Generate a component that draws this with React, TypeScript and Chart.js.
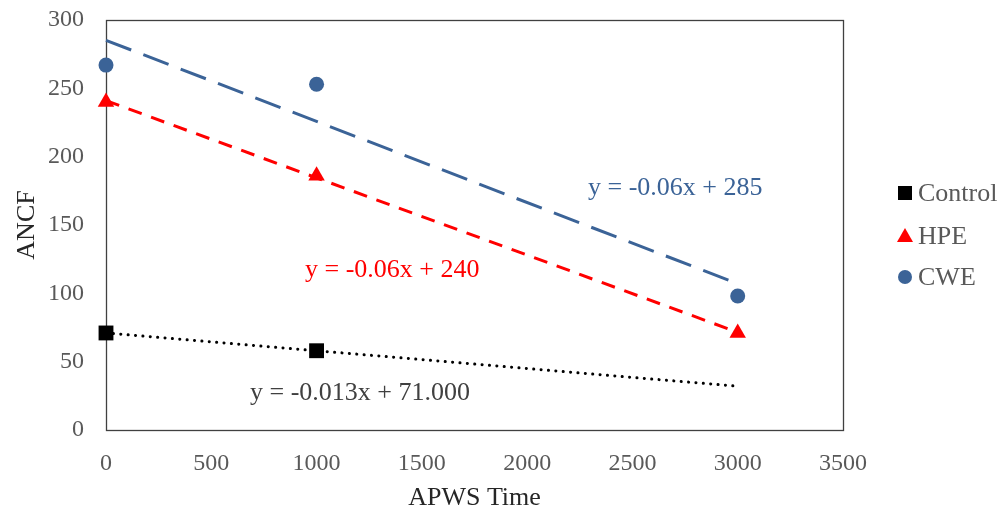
import React, { useEffect, useRef } from "react";
import { Chart, registerables } from "chart.js";

Chart.register(...registerables);

// ---- Data ----
const controlTimes = [0, 1000];
const controlValues = [71, 58];
const hpeTimes = [0, 1000, 3000];
const hpeValues = [240, 186, 71];
const cweTimes = [0, 1000, 3000];
const cweValues = [267, 253, 98];
const seriesNames = ["Control", "HPE", "CWE"];
const equationLabels = ["y = -0.013x + 71.000", "y = -0.06x + 240", "y = -0.06x + 285"];
const trendRange = [0, 3000];
const xTickValues = [0, 500, 1000, 1500, 2000, 2500, 3000, 3500];
const yTickValues = [0, 50, 100, 150, 200, 250, 300];
const xTitle = "APWS Time";
const yTitle = "ANCF";

// ---- Styles ----
const FONT = "'Liberation Serif', 'Times New Roman', serif";
const BLACK = "#000000";
const RED = "#FF0000";
const BLUE = "#3B6397";
const TICK = "#595959";

function regression(xs: number[], ys: number[]) {
  const n = xs.length;
  const mx = xs.reduce((a, b) => a + b, 0) / n;
  const my = ys.reduce((a, b) => a + b, 0) / n;
  let sxy = 0;
  let sxx = 0;
  for (let i = 0; i < n; i++) {
    sxy += (xs[i] - mx) * (ys[i] - my);
    sxx += (xs[i] - mx) * (xs[i] - mx);
  }
  const slope = sxy / sxx;
  const intercept = my - slope * mx;
  return trendRange.map((x) => ({ x, y: intercept + slope * x }));
}

const pts = (xs: number[], ys: number[]) => xs.map((x, i) => ({ x, y: ys[i] }));

// label placement (data coordinates: left edge, vertical centre)
const labelAnchors = [
  { x: 684, y: 27, color: "#404040" },
  { x: 945, y: 117, color: RED },
  { x: 2289, y: 177, color: BLUE },
];

const legendItems = [
  { style: "rect", color: BLACK },
  { style: "triangle", color: RED },
  { style: "circle", color: BLUE },
];

function drawMarker(ctx: CanvasRenderingContext2D, style: string, x: number, y: number, color: string) {
  ctx.save();
  ctx.fillStyle = color;
  ctx.beginPath();
  if (style === "rect") {
    ctx.rect(x - 7, y - 7, 14, 14);
  } else if (style === "triangle") {
    ctx.moveTo(x, y - 8);
    ctx.lineTo(x + 8, y + 6);
    ctx.lineTo(x - 8, y + 6);
    ctx.closePath();
  } else {
    ctx.arc(x, y, 7, 0, Math.PI * 2);
  }
  ctx.fill();
  ctx.restore();
}

const overlayPlugin = {
  id: "overlay",
  beforeDatasetsDraw(chart: any) {
    const { ctx, chartArea } = chart;
    ctx.save();
    ctx.strokeStyle = "#404040";
    ctx.lineWidth = 1.3;
    ctx.strokeRect(
      Math.round(chartArea.left) + 0.5,
      Math.round(chartArea.top) + 0.5,
      Math.round(chartArea.right - chartArea.left),
      Math.round(chartArea.bottom - chartArea.top)
    );
    ctx.restore();
  },
  afterDraw(chart: any) {
    const { ctx } = chart;
    const xs = chart.scales.x;
    const ys = chart.scales.y;
    ctx.save();
    ctx.font = `26px ${FONT}`;
    ctx.textBaseline = "middle";
    ctx.textAlign = "left";
    equationLabels.forEach((t, i) => {
      const a = labelAnchors[i];
      ctx.fillStyle = a.color;
      ctx.fillText(t, xs.getPixelForValue(a.x), ys.getPixelForValue(a.y));
    });
    // legend
    const lx = 905;
    const ly = [193, 236, 277];
    seriesNames.forEach((name, i) => {
      const it = legendItems[i];
      drawMarker(ctx, it.style, lx, ly[i], it.color);
      ctx.fillStyle = TICK;
      ctx.font = `26px ${FONT}`;
      ctx.fillText(name, lx + 13, ly[i] + 1);
    });
    ctx.restore();
  },
};

export default function App() {
  const canvasRef = useRef<HTMLCanvasElement | null>(null);

  useEffect(() => {
    if (!canvasRef.current) return;
    const chart = new Chart(canvasRef.current, {
      type: "scatter",
      data: {
        datasets: [
          {
            label: "Control",
            data: pts(controlTimes, controlValues),
            pointStyle: "rect",
            pointRadius: 10.5,
            backgroundColor: BLACK,
            borderColor: BLACK,
            borderWidth: 0,
            showLine: false,
            clip: false,
            order: 1,
          },
          {
            label: "HPE",
            data: pts(hpeTimes, hpeValues),
            pointStyle: "triangle",
            pointRadius: 9.5,
            backgroundColor: RED,
            borderColor: RED,
            borderWidth: 0,
            showLine: false,
            clip: false,
            order: 1,
          },
          {
            label: "CWE",
            data: pts(cweTimes, cweValues),
            pointStyle: "circle",
            pointRadius: 7.5,
            backgroundColor: BLUE,
            borderColor: BLUE,
            borderWidth: 0,
            showLine: false,
            clip: false,
            order: 1,
          },
          {
            label: "Control trend",
            data: regression(controlTimes, controlValues),
            showLine: true,
            pointRadius: 0,
            borderColor: BLACK,
            borderWidth: 3,
            borderDash: [0.1, 7.3],
            borderCapStyle: "round",
            clip: false,
            order: 2,
          },
          {
            label: "HPE trend",
            data: regression(hpeTimes, hpeValues),
            showLine: true,
            pointRadius: 0,
            borderColor: RED,
            borderWidth: 3,
            borderDash: [14, 10],
            clip: false,
            order: 2,
          },
          {
            label: "CWE trend",
            data: regression(cweTimes, cweValues),
            showLine: true,
            pointRadius: 0,
            borderColor: BLUE,
            borderWidth: 3,
            borderDash: [27, 13],
            clip: false,
            order: 2,
          },
        ],
      },
      options: {
        animation: false,
        responsive: true,
        maintainAspectRatio: false,
        layout: { padding: { left: 0, top: 20, right: 161, bottom: 0 } },
        plugins: {
          legend: { display: false },
          tooltip: { enabled: false },
        },
        scales: {
          x: {
            type: "linear",
            min: 0,
            max: 3500,
            afterBuildTicks: (scale: any) => {
              scale.ticks = xTickValues.map((v) => ({ value: v }));
            },
            afterFit: (scale: any) => {
              scale.height = 84;
            },
            grid: { display: false, drawTicks: false },
            border: { display: false },
            ticks: {
              color: TICK,
              font: { family: FONT, size: 24 },
              padding: 19,
              maxRotation: 0,
              callback: (v: any) => String(v),
            },
            title: {
              display: true,
              text: xTitle,
              color: "#262626",
              font: { family: FONT, size: 26 },
              padding: { top: 0, bottom: 0 },
            },
          },
          y: {
            type: "linear",
            min: 0,
            max: 300,
            afterBuildTicks: (scale: any) => {
              scale.ticks = yTickValues.map((v) => ({ value: v }));
            },
            afterFit: (scale: any) => {
              scale.width = 106;
              scale.paddingTop = 0;
              scale.paddingBottom = 0;
            },
            grid: { display: false, drawTicks: false },
            border: { display: false },
            ticks: {
              color: TICK,
              font: { family: FONT, size: 24 },
              padding: 22,
              callback: (v: any) => String(v),
            },
            title: {
              display: true,
              text: yTitle,
              color: "#262626",
              font: { family: FONT, size: 26 },
              padding: { top: 12, bottom: 0 },
            },
          },
        },
      },
      plugins: [overlayPlugin],
    } as any);
    return () => chart.destroy();
  }, []);

  return (
    <div style={{ position: "fixed", left: 0, top: 0, width: 1004, height: 514, background: "#fff" }}>
      <canvas ref={canvasRef} />
    </div>
  );
}
